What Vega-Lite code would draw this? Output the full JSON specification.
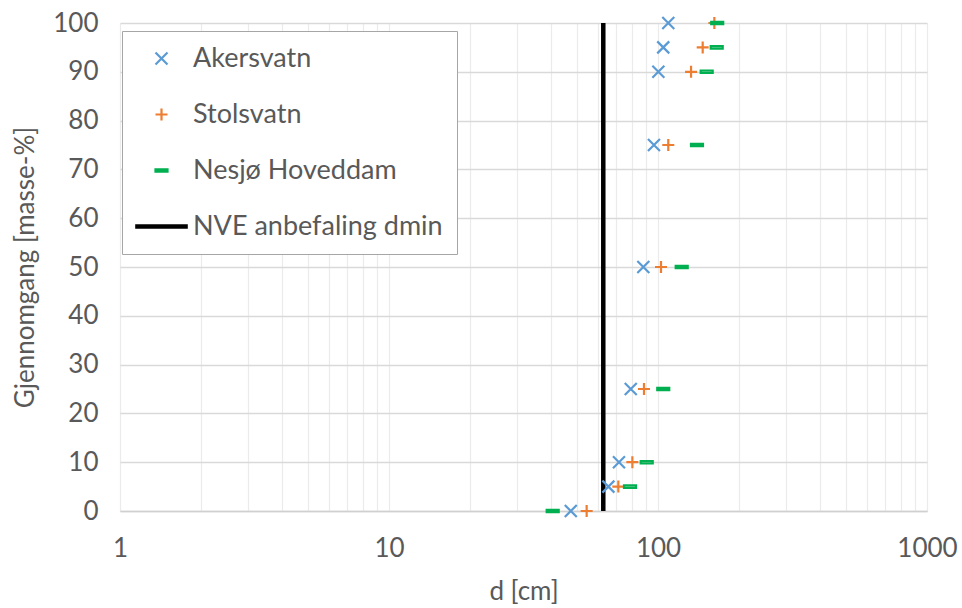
{
  "$schema": "https://vega.github.io/schema/vega-lite/v6.json",
  "width": 807,
  "height": 488,
  "autosize": {"type": "none"},
  "padding": {"left": 120, "top": 23, "right": 35, "bottom": 97},
  "background": "white",
  "config": {
    "view": {"stroke": null},
    "font": "Lato",
    "axis": {
      "labelFont": "Lato",
      "titleFont": "Lato",
      "labelFontSize": 26,
      "titleFontSize": 26,
      "labelColor": "#595959",
      "titleColor": "#595959",
      "titleFontWeight": "normal",
      "ticks": false
    }
  },
  "datasets": {
    "grading": [
      {"serie": "Akersvatn", "d": 47.4, "p": 0},
      {"serie": "Akersvatn", "d": 65.4, "p": 5},
      {"serie": "Akersvatn", "d": 71.6, "p": 10},
      {"serie": "Akersvatn", "d": 79.2, "p": 25},
      {"serie": "Akersvatn", "d": 88.2, "p": 50},
      {"serie": "Akersvatn", "d": 96.6, "p": 75},
      {"serie": "Akersvatn", "d": 100.3, "p": 90},
      {"serie": "Akersvatn", "d": 104.6, "p": 95},
      {"serie": "Akersvatn", "d": 109.2, "p": 100},
      {"serie": "Stolsvatn", "d": 54.3, "p": 0},
      {"serie": "Stolsvatn", "d": 71.2, "p": 5},
      {"serie": "Stolsvatn", "d": 80.3, "p": 10},
      {"serie": "Stolsvatn", "d": 88.7, "p": 25},
      {"serie": "Stolsvatn", "d": 102.6, "p": 50},
      {"serie": "Stolsvatn", "d": 109.2, "p": 75},
      {"serie": "Stolsvatn", "d": 132.7, "p": 90},
      {"serie": "Stolsvatn", "d": 146.6, "p": 95},
      {"serie": "Stolsvatn", "d": 162, "p": 100},
      {"serie": "Nesjø Hoveddam", "d": 40.6, "p": 0},
      {"serie": "Nesjø Hoveddam", "d": 78.7, "p": 5},
      {"serie": "Nesjø Hoveddam", "d": 90.8, "p": 10},
      {"serie": "Nesjø Hoveddam", "d": 104.6, "p": 25},
      {"serie": "Nesjø Hoveddam", "d": 122.5, "p": 50},
      {"serie": "Nesjø Hoveddam", "d": 139.6, "p": 75},
      {"serie": "Nesjø Hoveddam", "d": 151.7, "p": 90},
      {"serie": "Nesjø Hoveddam", "d": 165.3, "p": 95},
      {"serie": "Nesjø Hoveddam", "d": 166, "p": 100}
    ],
    "dmin": [{"serie": "NVE anbefaling dmin", "d": 62.6}]
  },
  "layer": [
    {
      "data": {"name": "dmin"},
      "mark": {"type": "rule", "color": "black", "strokeWidth": 4.5},
      "encoding": {
        "x": {
          "field": "d",
          "type": "quantitative",
          "scale": {"type": "log", "domain": [1, 1000], "nice": false},
          "axis": {
            "title": "d [cm]",
            "values": [1, 2, 3, 4, 5, 6, 7, 8, 9, 10, 20, 30, 40, 50, 60, 70, 80, 90, 100, 200, 300, 400, 500, 600, 700, 800, 900, 1000],
            "format": "d",
            "labelExpr": "indexof([1, 10, 100, 1000], datum.value) >= 0 ? datum.label : ''",
            "labelPadding": 24,
            "labelFlush": false,
            "titlePadding": 17,
            "grid": true,
            "gridColor": "#ebebeb",
            "gridWidth": 1.2,
            "domain": true,
            "domainColor": "#d0d0d0",
            "domainWidth": 1.3
          }
        }
      }
    },
    {
      "data": {"name": "grading"},
      "mark": {"type": "point", "filled": false, "strokeWidth": 2.2, "size": 144, "opacity": 1},
      "encoding": {
        "x": {"field": "d", "type": "quantitative"},
        "y": {
          "field": "p",
          "type": "quantitative",
          "scale": {"domain": [0, 100], "nice": false},
          "axis": {
            "title": "Gjennomgang [masse-%]",
            "values": [0, 10, 20, 30, 40, 50, 60, 70, 80, 90, 100],
            "labelPadding": 22,
            "titlePadding": 14,
            "grid": true,
            "gridColor": "#d9d9d9",
            "gridWidth": 1.3,
            "domain": false
          }
        },
        "color": {
          "field": "serie",
          "type": "nominal",
          "scale": {
            "domain": ["Akersvatn", "Stolsvatn", "Nesjø Hoveddam", "NVE anbefaling dmin"],
            "range": ["#5b9bd5", "#ed7d31", "#00b050", "#000000"]
          },
          "legend": {
            "title": null,
            "orient": "none",
            "legendX": 2,
            "legendY": 8,
            "fillColor": "white",
            "strokeColor": "#a6a6a6",
            "padding": 14,
            "rowPadding": 28,
            "labelFont": "Lato",
            "labelFontSize": 27,
            "labelColor": "#595959",
            "labelLimit": 500,
            "symbolSize": 144,
            "symbolStrokeWidth": 2.2,
            "symbolOffset": 12,
            "labelOffset": 18
          }
        },
        "shape": {
          "field": "serie",
          "type": "nominal",
          "scale": {
            "domain": ["Akersvatn", "Stolsvatn", "Nesjø Hoveddam", "NVE anbefaling dmin"],
            "range": [
              "M-1,-1L1,1M-1,1L1,-1",
              "M-1,0H1M0,-1V1",
              "M-1,-0.2H1V0.2H-1Z",
              "M-4.2,-0.2H4.2V0.2H-4.2Z"
            ]
          },
          "legend": {
            "title": null,
            "orient": "none",
            "legendX": 2,
            "legendY": 8,
            "fillColor": "white",
            "strokeColor": "#a6a6a6",
            "padding": 14,
            "rowPadding": 28,
            "labelFont": "Lato",
            "labelFontSize": 27,
            "labelColor": "#595959",
            "labelLimit": 500,
            "symbolSize": 144,
            "symbolStrokeWidth": 2.2,
            "symbolOffset": 12,
            "labelOffset": 18
          }
        }
      }
    }
  ]
}
